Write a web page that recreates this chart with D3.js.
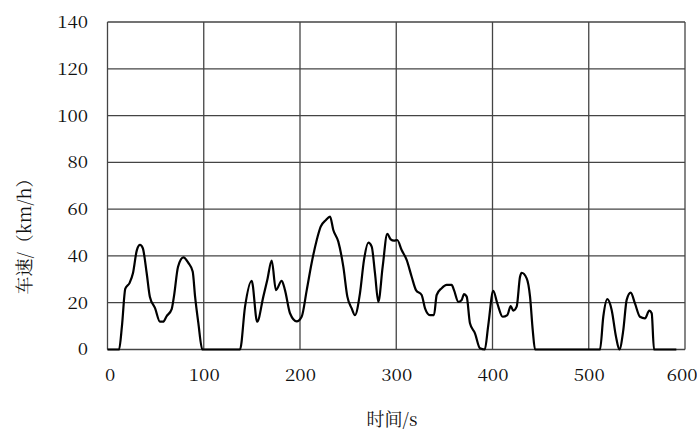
<!DOCTYPE html>
<html><head><meta charset="utf-8">
<script src="https://cdn.jsdelivr.net/npm/d3@7"></script>
<style>body{margin:0;background:#fff}</style>
</head><body>
<svg id="c" width="697" height="431"></svg>
<script>
const time = [0,12,15,18.5,23,26.5,30.5,33.8,36.6,40.7,44,49.4,54.5,57.7,61.5,66.7,69,73.3,78.8,84,88.5,91,94.4,98.5,
137.7,142.9,149.8,155.5,161.9,166,170.6,175,181,184.4,189.6,196.6,201.7,207,212,217.4,221.5,227,231.2,234.6,239.8,245,249.2,253.7,257.1,
262.3,266.5,271,274.5,277.9,281.4,285.9,290.7,294.2,297.7,301,305.6,310.8,316,320.5,326.4,329.9,335,339.2,342,347.2,352.4,357.6,360,364.5,
368,370.4,373.2,376.6,381.8,387,392,395.5,400.8,405,410.6,415.4,418.9,421.6,425.1,428.6,430.3,435.5,439,441.8,444.2,
511.7,515.1,519.3,523.8,528.3,531.8,535.9,539.4,543.6,548,553.2,558.4,562.9,565.4,567.8,591];
const speed = [0,0,10,26,28.5,32.7,42.5,44.7,43.4,32.7,22.6,17.7,11.9,11.9,14.3,17.3,22.6,35.4,39.4,37,33.3,22.6,11.3,0,
0,18.3,29.4,11.9,22.6,29.7,38,25.4,29.4,25.4,15.5,12,14,25.4,36.8,46.8,52.5,55.4,56.8,51.1,46.1,35.4,22.6,17.6,14.7,
24,38.3,45.7,44,32.6,20.4,35.4,49.4,47.1,46.5,46.8,42.5,38.3,31.1,25.4,23.3,17.6,14.7,14.7,23.3,26.2,27.6,27.6,25.4,20.4,
21.2,23.7,22.6,11.2,6.9,0.5,0,10,25.1,19.7,14,14.7,18.6,16.6,18.3,31.1,32.8,30.4,22.6,8.3,0,
0,14,21.5,16.9,5.5,0,8.3,21.2,24.3,19.7,14,13.3,16.6,15.5,0,0];
const xTicks = [0,100,200,300,400,500,600];
const yTicks = [0,20,40,60,80,100,120,140];
const xTitle = "时间/s";
const yTitle = "车速/（km/h）";

const FONT = "Noto Serif CJK SC";
const svg = d3.select("#c");
const x = d3.scaleLinear().domain([0,600]).range([107.5,685]);
const y = d3.scaleLinear().domain([0,140]).range([349.5,22]);
const grid = "#444";

svg.append("g").selectAll("line").data(yTicks).join("line")
  .attr("x1",x(0)).attr("x2",x(600)).attr("y1",d=>y(d)).attr("y2",d=>y(d))
  .attr("stroke",grid).attr("stroke-width",1.3);
svg.append("g").selectAll("line").data(xTicks).join("line")
  .attr("y1",y(0)).attr("y2",y(140)).attr("x1",d=>x(d)).attr("x2",d=>x(d))
  .attr("stroke",grid).attr("stroke-width",1.3);

const S = 1.1;
const ya = svg.append("g").attr("transform",`translate(${x(0)},0)`)
  .call(d3.axisLeft(y).tickValues(yTicks).tickSize(0).tickPadding(19.5));
const xa = svg.append("g").attr("transform",`translate(0,${y(0)})`)
  .call(d3.axisBottom(x).tickValues(xTicks).tickSize(0).tickPadding(19));
[ya,xa].forEach(a=>{
  a.attr("font-family",null).attr("font-size",null);
  a.select(".domain").remove();
  a.selectAll("text").style("font-family",FONT).style("font-size","17px").attr("fill","#111")
    .attr("transform",`scale(${S},1)`);
});
ya.selectAll(".tick text").attr("x", -19.5/S);
xa.selectAll(".tick text").attr("dx", d => d===600 ? -3 : (d===0 ? 2 : 0));

const data = time.map((t,i)=>({t, v:speed[i]}));
svg.append("path").datum(data)
  .attr("fill","none").attr("stroke","#000").attr("stroke-width",2.2)
  .attr("stroke-linejoin","round")
  .attr("d", d3.line().x(d=>x(d.t)).y(d=>y(d.v)).curve(d3.curveMonotoneX));

svg.append("text").attr("x",392).attr("y",426).attr("text-anchor","middle")
  .style("font-family",FONT).style("font-size","18px").attr("fill","#111").text(xTitle);
svg.append("text").attr("transform","translate(31,232) rotate(-90)").attr("text-anchor","middle")
  .style("font-family",FONT).style("font-size","18px").attr("fill","#111").text(yTitle);
</script>
</body></html>
